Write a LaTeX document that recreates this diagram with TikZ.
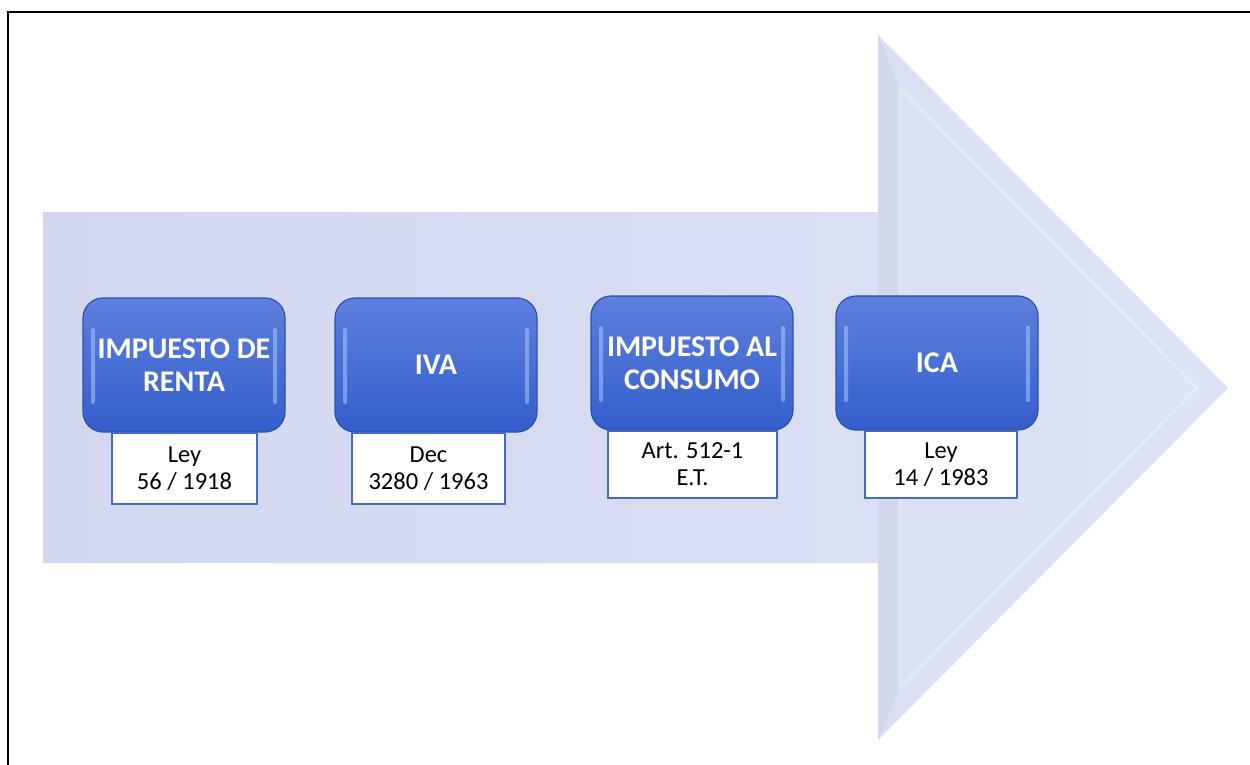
\documentclass[tikz,border=0pt]{standalone}
\usepackage{fontspec}
\setmainfont{Carlito}
\definecolor{arrowA}{RGB}{210,214,239}
\definecolor{arrowB}{RGB}{223,227,247}
\definecolor{blueTop}{RGB}{93,128,222}
\definecolor{blueBot}{RGB}{52,94,203}
\definecolor{blueEdge}{RGB}{44,80,175}
\definecolor{glint}{RGB}{160,192,246}
\definecolor{labelEdge}{RGB}{70,105,200}
\tikzset{
  taxbox/.style={rounded corners=20pt, top color=blueTop, bottom color=blueBot,
    draw=blueEdge, line width=1.2pt, minimum width=202pt, minimum height=134pt,
    inner sep=0pt, align=center, text=white,
    font=\fontsize{30}{33}\selectfont\bfseries},
  lawbox/.style={fill=white, draw=labelEdge, line width=1.6pt, inner sep=0pt,
    align=center, text=black, font=\fontsize{24.5}{27}\selectfont},
  gloss/.style={fill=glint, opacity=0.6, rounded corners=2pt}
}
\begin{document}
\begin{tikzpicture}[x=1pt,y=-1pt]
\useasboundingbox (0,0) rectangle (1250,765);
\fill[white] (0,0) rectangle (1250,765);
% frame
\draw[black, line width=2pt] (8,765) -- (8,12) -- (1250,12);
% big arrow
\shade[left color=arrowA, right color=arrowB]
  (43,212) -- (878,212) -- (878,35) -- (1228,388) -- (878,740) -- (878,563) -- (43,563) -- cycle;
\fill[black, opacity=0.035] (878,35) -- (900,88) -- (900,688) -- (878,740) -- cycle;
\draw[white, opacity=0.3, line width=3pt, line join=round]
  (900,88) -- (1197,388) -- (900,688) -- cycle;
% box 1
\node[taxbox] (b1) at (184,365) {IMPUESTO DE\\RENTA};
\fill[gloss] (91,328) rectangle (95,404);
\fill[gloss] (273,328) rectangle (277,404);
\node[lawbox, minimum width=145pt, minimum height=71pt, anchor=north] (l1) at (184.5,432) {Ley\\56 / 1918};
% box 2
\node[taxbox] (b2) at (436,365) {IVA};
\fill[gloss] (343,328) rectangle (347,404);
\fill[gloss] (525,328) rectangle (529,404);
\node[lawbox, minimum width=153pt, minimum height=71pt, anchor=north] (l2) at (428.5,432) {Dec\\3280 / 1963};
% box 3
\node[taxbox] (b3) at (692,363) {IMPUESTO AL\\CONSUMO};
\fill[gloss] (599,326) rectangle (603,402);
\fill[gloss] (781,326) rectangle (785,402);
\node[lawbox, minimum width=169pt, minimum height=67pt, anchor=north] (l3) at (692.5,430) {Art. 512-1\\E.T.};
% box 4
\node[taxbox] (b4) at (937,363) {ICA};
\fill[gloss] (844,326) rectangle (848,402);
\fill[gloss] (1026,326) rectangle (1030,402);
\node[lawbox, minimum width=152pt, minimum height=67pt, anchor=north] (l4) at (941,430) {Ley\\14 / 1983};
\end{tikzpicture}
\end{document}
